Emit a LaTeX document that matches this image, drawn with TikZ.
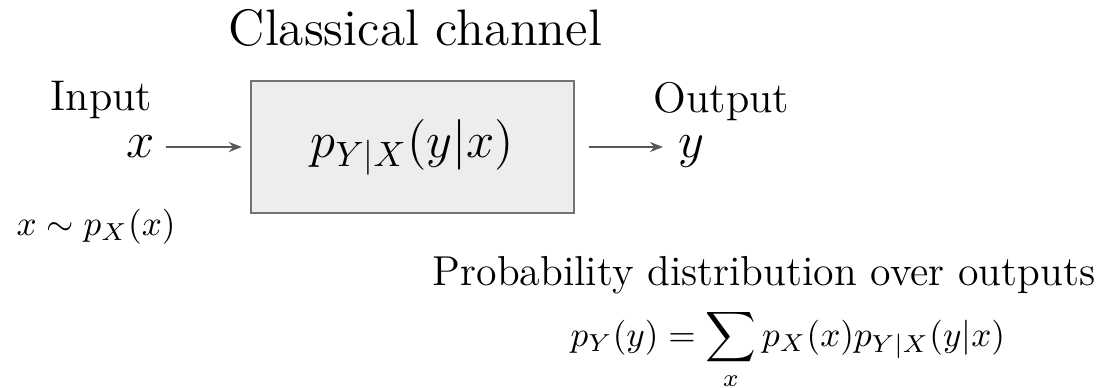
\documentclass[tikz,border=0pt]{standalone}
\usetikzlibrary{arrows.meta, positioning}

\begin{document}
\begin{tikzpicture}[
  x=0.01cm, y=-0.01cm,
  every node/.style={font=\fontsize{12.2}{15}\selectfont, inner sep=0pt},
  head/.style={font=\fontsize{14.6}{17}\selectfont},
  chan/.style={draw=black!55, fill=black!7, line width=0.6pt, minimum width=3.23cm, minimum height=1.32cm},
  sig/.style={font=\fontsize{14.8}{18}\selectfont},
  small/.style={font=\fontsize{10}{12}\selectfont},
  flow/.style={black!65, line width=0.5pt, -{Stealth[length=1.3mm, width=1mm]}}
]
\useasboundingbox (0,0) rectangle (1101,387);

% Channel
\node[head, anchor=base west] (title) at (228,45) {Classical channel};
\node[chan] (box) at (412.5,147) {};
\node[sig] (pyx) at (box.center) {$p_{Y|X}(y|x)$};

% Input side
\node[anchor=base west] (inlabel) at (50,110) {Input};
\node[sig, anchor=base east] (xin) at (155,157) {$x$};
\node[small, anchor=base west] (xdist) at (16,235) {$x\sim p_X(x)$};

% Output side
\node[anchor=base west] (outlabel) at (653,112) {Output};
\node[sig, anchor=base west] (yout) at (678,157) {$y$};

% Arrows
\draw[flow] ([xshift=0.11cm]xin.east |- box.center) -- ([xshift=-0.08cm]box.west);
\draw[flow] ([xshift=0.14cm]box.east) -- ([xshift=-0.15cm]yout.west |- box.center);

% Output distribution
\node[font=\fontsize{11.9}{14}\selectfont, anchor=base west] (plabel) at (432,285) {Probability distribution over outputs};
\node[font=\fontsize{9.8}{12}\selectfont, anchor=base west] (pform) at (570,346) {$\displaystyle p_Y(y)=\sum_x p_X(x)p_{Y|X}(y|x)$};
\end{tikzpicture}
\end{document}
